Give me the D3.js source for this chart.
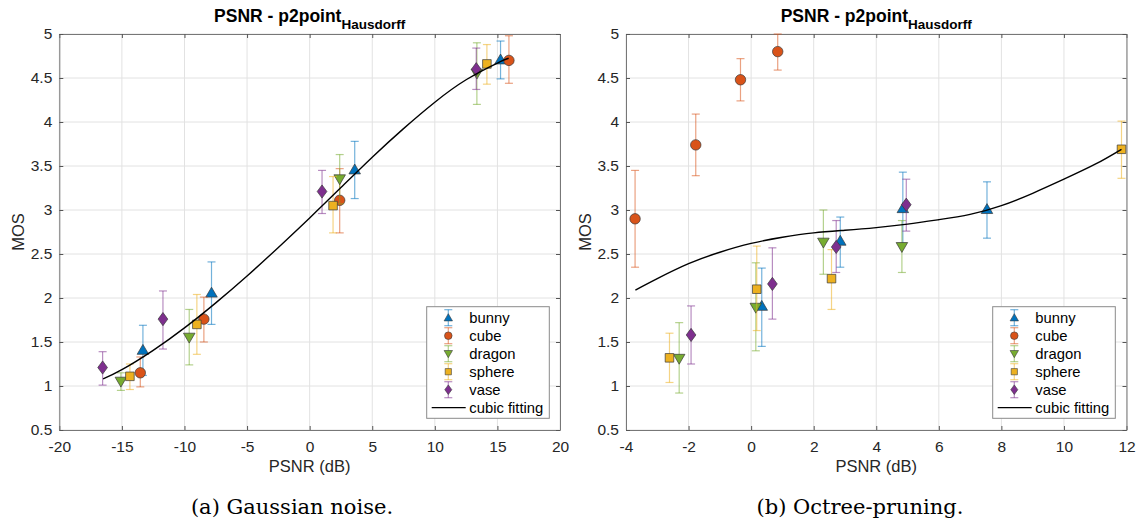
<!DOCTYPE html>
<html>
<head>
<meta charset="utf-8">
<script src="https://cdn.jsdelivr.net/npm/d3@7"></script>
<style>
  body { margin: 0; background: #fff; }
  svg { display: block; }
</style>
</head>
<body>
<svg id="fig" width="1137" height="525"></svg>
<script>
// ---- data: each row is [PSNR (dB), MOS, CI low, CI high] ----
const seriesNames = ["bunny", "cube", "dragon", "sphere", "vase"];

const gaussBunny  = [[-13.32, 1.41, 1.12, 1.69], [-7.84, 2.06, 1.70, 2.41], [3.60, 3.46, 3.13, 3.78], [15.25, 4.71, 4.49, 4.92]];
const gaussCube   = [[-13.53, 1.15, 0.99, 1.33], [-8.45, 1.76, 1.50, 2.01], [2.40, 3.11, 2.74, 3.47], [15.92, 4.70, 4.44, 4.98]];
const gaussDragon = [[-15.08, 1.05, 0.95, 1.15], [-9.62, 1.55, 1.24, 1.87], [2.40, 3.35, 3.07, 3.63], [13.36, 4.55, 4.20, 4.90]];
const gaussSphere = [[-14.36, 1.11, 0.96, 1.25], [-9.01, 1.70, 1.36, 2.04], [1.87, 3.05, 2.74, 3.38], [14.16, 4.66, 4.43, 4.88]];
const gaussVase   = [[-16.54, 1.21, 1.01, 1.39], [-11.72, 1.76, 1.42, 2.08], [0.99, 3.21, 2.96, 3.45], [13.31, 4.60, 4.37, 4.84]];

const octBunny  = [[0.34, 1.91, 1.45, 2.34], [2.85, 2.65, 2.35, 2.92], [4.85, 3.02, 2.62, 3.43], [7.54, 3.01, 2.68, 3.32]];
const octCube   = [[-3.71, 2.90, 2.35, 3.45], [-1.77, 3.74, 3.39, 4.09], [-0.34, 4.48, 4.24, 4.72], [0.85, 4.80, 4.59, 5.00]];
const octDragon = [[-2.30, 1.31, 0.92, 1.72], [0.15, 1.89, 1.40, 2.40], [2.31, 2.63, 2.27, 3.00], [4.82, 2.58, 2.29, 2.88]];
const octSphere = [[-2.61, 1.32, 1.04, 1.60], [0.18, 2.10, 1.63, 2.59], [2.57, 2.22, 1.87, 2.55], [11.84, 3.69, 3.36, 4.01]];
const octVase   = [[-1.92, 1.58, 1.25, 1.91], [0.68, 2.16, 1.76, 2.57], [2.72, 2.58, 2.29, 2.88], [4.96, 3.06, 2.76, 3.35]];

// cubic fitting curves, sampled as [PSNR, MOS]
const gaussFit = [[-16.5, 1.08], [-15, 1.185], [-12.5, 1.405], [-10, 1.66], [-7.5, 1.945], [-5, 2.25], [-2.5, 2.575],
                  [0, 2.91], [2.5, 3.255], [5, 3.60], [7.5, 3.925], [10, 4.225], [12.5, 4.48], [15, 4.67], [15.9, 4.724]];
const octFit = [[-3.7, 2.09], [-3, 2.22], [-2, 2.39], [-1, 2.52], [0, 2.62], [1, 2.69], [2, 2.74], [3, 2.77], [4, 2.80],
                [5, 2.84], [6, 2.89], [7, 2.95], [8, 3.05], [9, 3.19], [10, 3.35], [11, 3.52], [11.84, 3.69]];

const gaussXTicks = [-20, -15, -10, -5, 0, 5, 10, 15, 20];
const octXTicks = [-4, -2, 0, 2, 4, 6, 8, 10, 12];
const mosTicks = [0.5, 1, 1.5, 2, 2.5, 3, 3.5, 4, 4.5, 5];

const plotTitle = "PSNR - p2point";
const plotTitleSub = "Hausdorff";
const xLabel = "PSNR (dB)";
const yLabel = "MOS";
const fitLabel = "cubic fitting";
const captions = ["(a) Gaussian noise.", "(b) Octree-pruning."];

// ---- styles ----
const colors = ["#0072BD", "#D95319", "#77AC30", "#EDB120", "#7E2F8E"];
const shapes = ["triUp", "circle", "triDown", "square", "diamond"];
const font = "'Liberation Sans', Arial, Helvetica, sans-serif";

function markerPath(shape, s) {
  // s = nominal marker size in px
  const h = s / 2;
  switch (shape) {
    case "triUp":   return `M0,${-h}L${h * 1.05},${h * 0.8}L${-h * 1.05},${h * 0.8}Z`;
    case "triDown": return `M0,${h}L${h * 1.05},${-h * 0.8}L${-h * 1.05},${-h * 0.8}Z`;
    case "circle":  return `M${h * 0.95},0A${h * 0.95},${h * 0.95} 0 1,1 ${-h * 0.95},0A${h * 0.95},${h * 0.95} 0 1,1 ${h * 0.95},0Z`;
    case "square":  { const q = h * 0.78; return `M${-q},${-q}H${q}V${q}H${-q}Z`; }
    case "diamond": return `M0,${-h * 1.2}L${h * 0.88},0L0,${h * 1.2}L${-h * 0.88},0Z`;
  }
}

const svg = d3.select("#fig");
const tickFmt = d3.formatLocale({ decimal: ".", thousands: ",", grouping: [3], currency: ["", ""], minus: "-" }).format("");

const panels = [
  { left: 59.3, right: 560, xDomain: [-20, 20], xTicks: gaussXTicks, series: [gaussBunny, gaussCube, gaussDragon, gaussSphere, gaussVase], fit: gaussFit, caption: captions[0], captionX: 292, legendX: 426.7 },
  { left: 626, right: 1126.5, xDomain: [-4, 12], xTicks: octXTicks, series: [octBunny, octCube, octDragon, octSphere, octVase], fit: octFit, caption: captions[1], captionX: 860, legendX: 992.7 }
];
const plotTop = 34, plotBottom = 430;

panels.forEach(p => {
  const x = d3.scaleLinear().domain(p.xDomain).range([p.left, p.right]);
  const y = d3.scaleLinear().domain([0.5, 5]).range([plotBottom, plotTop]);
  const g = svg.append("g");
  const cx = (p.left + p.right) / 2;

  // grid
  g.append("g").selectAll("line").data(p.xTicks).join("line")
    .attr("x1", d => x(d)).attr("x2", d => x(d)).attr("y1", plotTop).attr("y2", plotBottom)
    .attr("stroke", "#e2e2e2").attr("stroke-width", 1);
  g.append("g").selectAll("line").data(mosTicks).join("line")
    .attr("x1", p.left).attr("x2", p.right).attr("y1", d => y(d)).attr("y2", d => y(d))
    .attr("stroke", "#e2e2e2").attr("stroke-width", 1);

  // axes (ticks pointing inward on all four sides)
  const axisStyle = sel => {
    sel.select(".domain").attr("stroke", "#777");
    sel.selectAll(".tick line").attr("stroke", "#555");
    sel.selectAll(".tick text").attr("fill", "#262626").style("font-family", font).style("font-size", "15.5px");
  };
  g.append("g").attr("transform", `translate(0,${plotBottom})`)
    .call(d3.axisBottom(x).tickValues(p.xTicks).tickSize(-4).tickSizeOuter(0).tickPadding(11).tickFormat(tickFmt))
    .call(axisStyle);
  g.append("g").attr("transform", `translate(0,${plotTop})`)
    .call(d3.axisTop(x).tickValues(p.xTicks).tickSize(-4).tickSizeOuter(0).tickFormat(""))
    .call(axisStyle);
  g.append("g").attr("transform", `translate(${p.left},0)`)
    .call(d3.axisLeft(y).tickValues(mosTicks).tickSize(-4).tickSizeOuter(0).tickPadding(7).tickFormat(tickFmt))
    .call(axisStyle);
  g.append("g").attr("transform", `translate(${p.right},0)`)
    .call(d3.axisRight(y).tickValues(mosTicks).tickSize(-4).tickSizeOuter(0).tickFormat(""))
    .call(axisStyle);

  // title with subscript
  const t = g.append("text").attr("x", cx).attr("y", 22).attr("text-anchor", "middle")
    .style("font-family", font).style("font-weight", "bold").style("font-size", "17.5px").attr("fill", "#000");
  t.append("tspan").text(plotTitle);
  t.append("tspan").attr("dy", 7).style("font-size", "13.5px").text(plotTitleSub);

  // axis labels
  g.append("text").attr("x", cx).attr("y", 472).attr("text-anchor", "middle")
    .style("font-family", font).style("font-size", "16.5px").attr("fill", "#262626").text(xLabel);
  g.append("text").attr("transform", `translate(${p.left - 35},${(plotTop + plotBottom) / 2}) rotate(-90)`)
    .attr("text-anchor", "middle")
    .style("font-family", font).style("font-size", "16.5px").attr("fill", "#262626").text(yLabel);

  // caption
  svg.append("text").attr("x", p.captionX).attr("y", 514).attr("text-anchor", "middle")
    .style("font-family", "'DejaVu Serif', 'Liberation Serif', serif").style("font-size", "21px")
    .attr("fill", "#000").text(p.caption);

  // series: error bars then markers
  p.series.forEach((rows, i) => {
    const sg = g.append("g");
    const col = colors[i];
    const cap = 4;
    const eb = sg.append("g").attr("stroke", col).attr("stroke-opacity", 0.55).attr("stroke-width", 1.2);
    rows.forEach(r => {
      const px = x(r[0]);
      eb.append("line").attr("x1", px).attr("x2", px).attr("y1", y(r[2])).attr("y2", y(r[3]));
      eb.append("line").attr("x1", px - cap).attr("x2", px + cap).attr("y1", y(r[2])).attr("y2", y(r[2]));
      eb.append("line").attr("x1", px - cap).attr("x2", px + cap).attr("y1", y(r[3])).attr("y2", y(r[3]));
    });
    sg.selectAll("path").data(rows).join("path")
      .attr("transform", r => `translate(${x(r[0])},${y(r[1])})`)
      .attr("d", markerPath(shapes[i], 11))
      .attr("fill", col).attr("stroke", "#3a3a3a").attr("stroke-width", 0.7);
  });

  // cubic fitting line
  const line = d3.line().x(d => x(d[0])).y(d => y(d[1])).curve(d3.curveNatural);
  g.append("path").datum(p.fit).attr("d", line)
    .attr("fill", "none").attr("stroke", "#000").attr("stroke-width", 1.4);

  // legend
  const lx = p.legendX, ly = 306.7, lw = 122.6, lh = 111.6;
  const lg = g.append("g");
  lg.append("rect").attr("x", lx).attr("y", ly).attr("width", lw).attr("height", lh)
    .attr("fill", "#fff").attr("stroke", "#8a8a8a").attr("stroke-width", 1);
  const entries = seriesNames.concat([fitLabel]);
  entries.forEach((name, i) => {
    const ey = ly + 11 + i * 18;
    const mx = lx + 21.6;
    if (i < seriesNames.length) {
      const col = colors[i];
      const e = lg.append("g").attr("stroke", col).attr("stroke-opacity", 0.55).attr("stroke-width", 1.2);
      e.append("line").attr("x1", mx).attr("x2", mx).attr("y1", ey - 8).attr("y2", ey + 8);
      e.append("line").attr("x1", mx - 4).attr("x2", mx + 4).attr("y1", ey - 8).attr("y2", ey - 8);
      e.append("line").attr("x1", mx - 4).attr("x2", mx + 4).attr("y1", ey + 8).attr("y2", ey + 8);
      lg.append("path").attr("transform", `translate(${mx},${ey})`).attr("d", markerPath(shapes[i], 8))
        .attr("fill", col).attr("stroke", "#3a3a3a").attr("stroke-width", 0.6);
    } else {
      lg.append("line").attr("x1", lx + 5).attr("x2", lx + 39).attr("y1", ey).attr("y2", ey)
        .attr("stroke", "#000").attr("stroke-width", 1.2);
    }
    lg.append("text").attr("x", lx + 42.6).attr("y", ey + 5)
      .style("font-family", font).style("font-size", "14.8px").attr("fill", "#000").text(name);
  });
});
</script>
</body>
</html>
